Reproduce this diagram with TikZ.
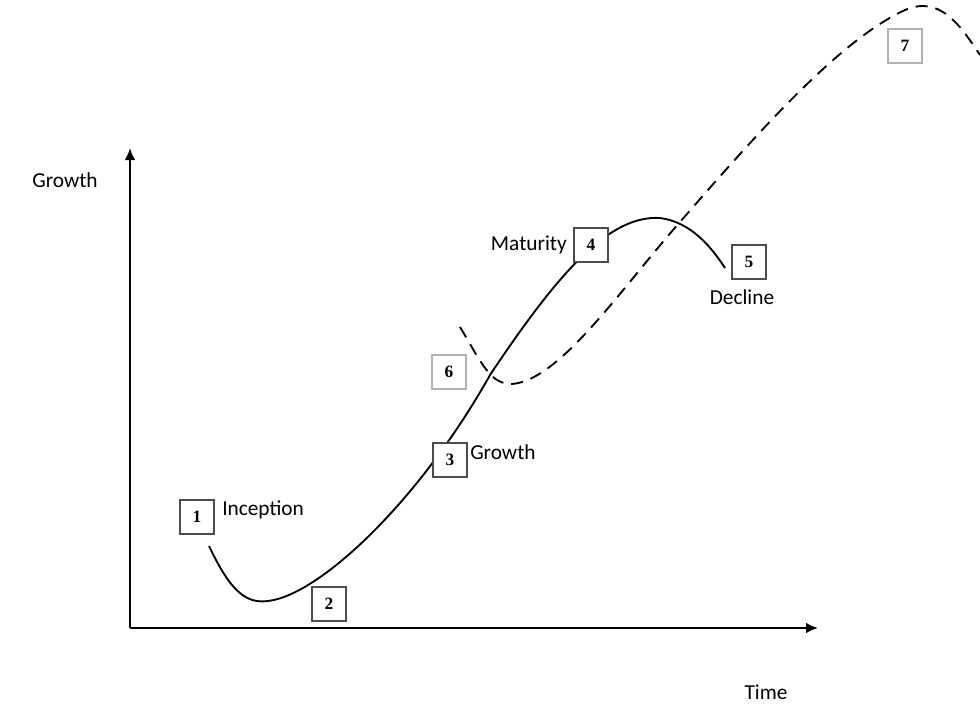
\documentclass[tikz,border=0pt]{standalone}
\usepackage{fontspec}
\usetikzlibrary{arrows.meta}
\setmainfont{Carlito}
\newfontfamily\numfont{Liberation Serif}
\begin{document}
\begin{tikzpicture}[x=0.75pt,y=-0.75pt,
  numbox/.style={draw=black!70,line width=1.6pt,minimum size=25pt,inner sep=0pt,font=\numfont\bfseries\fontsize{13}{13}\selectfont,fill=white},
  lightbox/.style={numbox,draw=black!30},
  lbl/.style={font=\fontsize{16}{16}\selectfont,inner sep=0pt}]
\useasboundingbox (0,0) rectangle (980,714);
\coordinate (o) at (130,628);
\coordinate (ytop) at (130,148);
\coordinate (xend) at (818,628);
\draw[line width=1.6pt,-{Latex[length=9pt,width=8pt]}] (o) -- (ytop);
\draw[line width=1.6pt,-{Latex[length=9pt,width=8pt]}] (o) -- (xend);
\draw[line width=1.4pt] (209,546) .. controls (230,590) and (245,604) .. (268,601)
  .. controls (320,595) and (420,500) .. (490,375)
  .. controls (560,270) and (610,215) .. (660,218)
  .. controls (690,222) and (710,245) .. (725,268);
\draw[line width=1.4pt,dash pattern=on 9pt off 6pt] (460,327) .. controls (480,360) and (490,385) .. (512,384)
  .. controls (560,380) and (620,290) .. (680,222)
  .. controls (760,130) and (840,40) .. (905,10)
  .. controls (940,-5) and (960,25) .. (980,55);
\node[numbox] (n1) at (197,517) {1};
\node[numbox] (n2) at (329,604) {2};
\node[numbox] (n3) at (450,460) {3};
\node[numbox] (n4) at (591,245) {4};
\node[numbox] (n5) at (749,262) {5};
\node[lightbox] (n6) at (449,372) {6};
\node[lightbox] (n7) at (905,46) {7};
\node[lbl] (ty) at (65,180) {Growth};
\node[lbl] (tx) at (766,692) {Time};
\node[lbl,anchor=west] (t1) at (222,510) {Inception};
\node[lbl,anchor=west] (t3) at (470,452) {Growth};
\node[lbl,anchor=east] (t4) at (567,245) {Maturity};
\node[lbl] (t5) at (742,297) {Decline};
\end{tikzpicture}
\end{document}
